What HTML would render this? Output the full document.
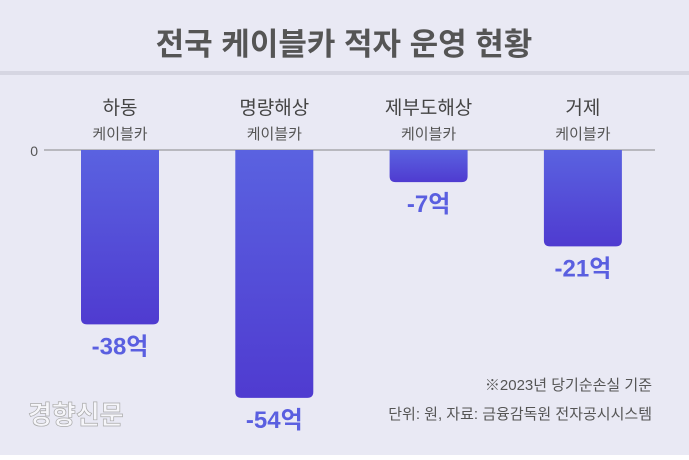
<!DOCTYPE html>
<html><head><meta charset="utf-8">
<style>
html,body{margin:0;padding:0;}
body{width:689px;height:459px;background:#fff;font-family:"Liberation Sans","Noto Sans CJK KR",sans-serif;overflow:hidden;}
#wrap{position:relative;width:689px;height:455px;background:#e9e9f4;}
</style></head><body>
<div id="wrap">
<svg id="chart" width="689" height="455">
<defs><linearGradient id="g" x1="0" y1="0" x2="0" y2="1"><stop offset="0" stop-color="#5a62e0"/><stop offset="1" stop-color="#4f3bd0"/></linearGradient></defs>
<text x="344" y="55" text-anchor="middle" font-size="31" font-weight="bold" fill="#555">전국 케이블카 적자 운영 현황</text>
<rect x="0" y="71" width="689" height="4" fill="#d6d6e2"/>
<line x1="44" y1="150" x2="655" y2="150" stroke="#888" stroke-width="1"/>
<text x="38" y="156" text-anchor="end" font-size="14" fill="#555">0</text>
<g id="bars"></g>
<text x="652" y="390" text-anchor="end" font-size="15" fill="#555">※2023년 당기순손실 기준</text>
<text x="652" y="419" text-anchor="end" font-size="15" fill="#555">단위: 원, 자료: 금융감독원 전자공시시스템</text>
<text x="28" y="424" font-size="26" font-weight="bold" fill="#f6f6fa" stroke="#aaa" stroke-width="0.7">경향신문</text>
</svg>
</div>
<script>
const categories=["하동","명량해상","제부도해상","거제"];
const subtitles=["케이블카","케이블카","케이블카","케이블카"];
const values=[-38,-54,-7,-21];
const valueLabels=["-38억","-54억","-7억","-21억"];
const zeroY=150, pxPerUnit=4.59, barW=78, x0=81, step=154.3;
function yScale(v){return zeroY - v*pxPerUnit;}
function xScale(i){return x0+i*step;}
const ns="http://www.w3.org/2000/svg";
const g=document.getElementById('bars');
values.forEach((v,i)=>{
  const x=xScale(i), yb=yScale(v), cx=x+barW/2;
  const p=document.createElementNS(ns,'path');
  const r=Math.min(6,(yb-zeroY)/2);
  p.setAttribute('d',`M${x},${zeroY}H${x+barW}V${yb-r}Q${x+barW},${yb} ${x+barW-r},${yb}H${x+r}Q${x},${yb} ${x},${yb-r}Z`);
  p.setAttribute('fill','url(#g)');
  
  
  g.appendChild(p);
  const t1=document.createElementNS(ns,'text');
  t1.setAttribute('x',cx);t1.setAttribute('y',114);t1.setAttribute('text-anchor','middle');
  t1.setAttribute('font-size','19');t1.setAttribute('fill','#444');
  t1.textContent=categories[i];
  
  
  g.appendChild(t1);
  const t2=document.createElementNS(ns,'text');
  t2.setAttribute('x',cx);t2.setAttribute('y',139);t2.setAttribute('text-anchor','middle');
  t2.setAttribute('font-size','15');t2.setAttribute('fill','#555');
  t2.textContent=subtitles[i];
  
  
  g.appendChild(t2);
  const t3=document.createElementNS(ns,'text');
  t3.setAttribute('x',cx);t3.setAttribute('y',yb+30);t3.setAttribute('text-anchor','middle');
  t3.setAttribute('font-size','24');t3.setAttribute('font-weight','bold');t3.setAttribute('fill','#5a5fe0');
  t3.textContent=valueLabels[i];
  
  
  g.appendChild(t3);
});
</script>
</body></html>
